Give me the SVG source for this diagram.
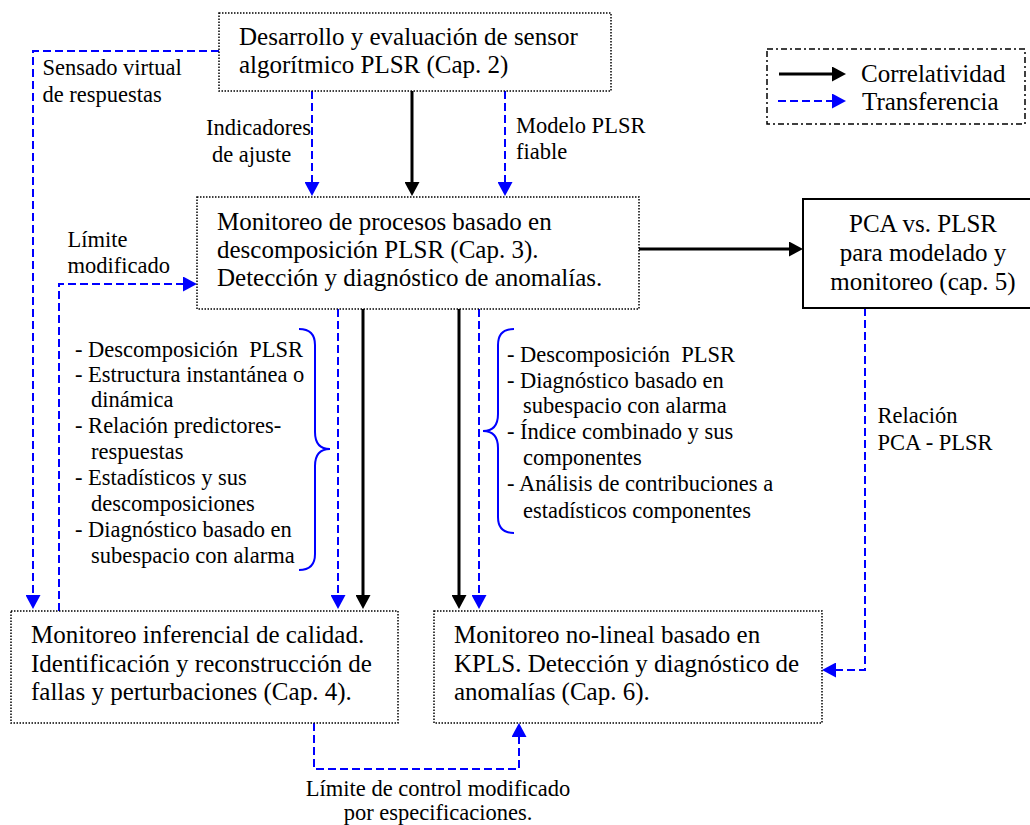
<svg xmlns="http://www.w3.org/2000/svg" width="1030" height="825" viewBox="0 0 1030 825">
<style>
text{font-family:"Liberation Serif","Times New Roman",serif;fill:#000}
.b{font-size:25px}
.s{font-size:22.5px}
.mid{text-anchor:middle}
.dot{fill:#fff;stroke:#000;stroke-width:1.5;stroke-dasharray:1.5 1.5}
.solidbox{fill:#fff;stroke:#000;stroke-width:2}
.cor{fill:none;stroke:#000;stroke-width:3;marker-end:url(#ab)}
.tr{fill:none;stroke:#0000ff;stroke-width:2;stroke-dasharray:8 4;marker-end:url(#au)}
.brace{fill:none;stroke:#0000ff;stroke-width:2}
</style>
<defs>
<marker id="ab" markerUnits="userSpaceOnUse" viewBox="0 0 14 15" markerWidth="14" markerHeight="15" refX="8" refY="7.5" orient="auto"><path d="M0,0 L14,7.5 L0,15 z" fill="#000"/></marker>
<marker id="au" markerUnits="userSpaceOnUse" viewBox="0 0 14 15" markerWidth="14" markerHeight="15" refX="8" refY="7.5" orient="auto"><path d="M0,0 L14,7.5 L0,15 z" fill="#0000ff"/></marker>
</defs>

<g id="connectors">
<path class="cor" d="M412,91 V190"/>
<path class="tr" d="M312,91 V190"/>
<path class="tr" d="M505,91 V190"/>
<path class="cor" d="M639,249 H797"/>
<path class="tr" d="M219,51 H33 V603"/>
<path class="tr" d="M59,611 V284 H191"/>
<path class="tr" d="M338,309 V603"/>
<path class="cor" d="M363,309 V603"/>
<path class="cor" d="M459,309 V603"/>
<path class="tr" d="M479,309 V603"/>
<path class="tr" d="M865,308 V670 H828"/>
<path class="tr" d="M314,723 V769 H519 V729"/>
</g>

<g id="legend">
<rect x="767" y="49" width="258" height="75" fill="none" stroke="#000" stroke-width="1.5" stroke-dasharray="6 3 2 3"/>
<path class="cor" d="M779,74 H840"/>
<path class="tr" d="M778,101 H840"/>
<text class="b" x="861" y="82">Correlatividad</text>
<text class="b" x="862" y="110">Transferencia</text>
</g>

<g id="node-cap2">
<rect class="dot" x="219" y="13" width="392" height="78"/>
<text class="b" x="239" y="45">Desarrollo y evaluación de sensor</text>
<text class="b" x="239" y="72.5">algorítmico PLSR (Cap. 2)</text>
</g>

<g id="node-cap3">
<rect class="dot" x="197" y="197" width="442" height="112"/>
<text class="b" x="217" y="230">Monitoreo de procesos basado en</text>
<text class="b" x="217" y="258">descomposición PLSR (Cap. 3).</text>
<text class="b" x="217" y="286">Detección y diagnóstico de anomalías.</text>
</g>

<g id="node-cap5">
<rect class="solidbox" x="803" y="199" width="230" height="109"/>
<text class="b mid" x="923" y="231.5">PCA vs. PLSR</text>
<text class="b mid" x="923" y="261">para modelado y</text>
<text class="b mid" x="923" y="290">monitoreo (cap. 5)</text>
</g>

<g id="node-cap4">
<rect class="dot" x="11" y="611" width="387" height="112"/>
<text class="b" x="31" y="643">Monitoreo inferencial de calidad.</text>
<text class="b" x="31" y="671.5">Identificación y reconstrucción de</text>
<text class="b" x="31" y="700">fallas y perturbaciones (Cap. 4).</text>
</g>

<g id="node-cap6">
<rect class="dot" x="434" y="611" width="388" height="112"/>
<text class="b" x="454" y="643">Monitoreo no-lineal basado en</text>
<text class="b" x="454" y="671.5">KPLS. Detección y diagnóstico de</text>
<text class="b" x="454" y="700">anomalías (Cap. 6).</text>
</g>

<g id="labels">
<text class="s" x="42.5" y="75">Sensado virtual</text>
<text class="s" x="42.5" y="101.5">de respuestas</text>
<text class="s" x="206" y="135">Indicadores</text>
<text class="s" x="212" y="161.5">de ajuste</text>
<text class="s" x="516" y="133">Modelo PLSR</text>
<text class="s" x="516" y="159">fiable</text>
<text class="s" x="67.5" y="246.5">Límite</text>
<text class="s" x="67.5" y="272.5">modificado</text>
<text class="s" x="877.5" y="423">Relación</text>
<text class="s" x="877.5" y="450">PCA - PLSR</text>
<text class="s mid" x="438" y="796">Límite de control modificado</text>
<text class="s mid" x="438" y="820">por especificaciones.</text>
</g>

<g id="list-left">
<path class="brace" d="M299,329 C310,329 315,334 315,345 V432 C315,443 320,449 330,449 C320,449 315,455 315,466 V554 C315,565 310,570 299,570"/>
<text class="s" x="75" y="356.7" xml:space="preserve">- Descomposición  PLSR</text>
<text class="s" x="75" y="381.7">- Estructura instantánea o</text>
<text class="s" x="91" y="407.3">dinámica</text>
<text class="s" x="75" y="433.3">- Relación predictores-</text>
<text class="s" x="91" y="459.3">respuestas</text>
<text class="s" x="75" y="485">- Estadísticos y sus</text>
<text class="s" x="91" y="510.7">descomposiciones</text>
<text class="s" x="75" y="536.7">- Diagnóstico basado en</text>
<text class="s" x="91" y="562.7">subespacio con alarma</text>
</g>

<g id="list-right">
<path class="brace" d="M514,329 C503,329 498,334 498,345 V414 C498,425 493,431 483,431 C493,431 498,437 498,448 V517 C498,528 503,533 514,533"/>
<text class="s" x="507" y="361.7" xml:space="preserve">- Descomposición  PLSR</text>
<text class="s" x="507" y="387.7">- Diagnóstico basado en</text>
<text class="s" x="523" y="413.3">subespacio con alarma</text>
<text class="s" x="507" y="439">- Índice combinado y sus</text>
<text class="s" x="523" y="465">componentes</text>
<text class="s" x="507" y="491">- Análisis de contribuciones a</text>
<text class="s" x="523" y="517.7">estadísticos componentes</text>
</g>
</svg>
